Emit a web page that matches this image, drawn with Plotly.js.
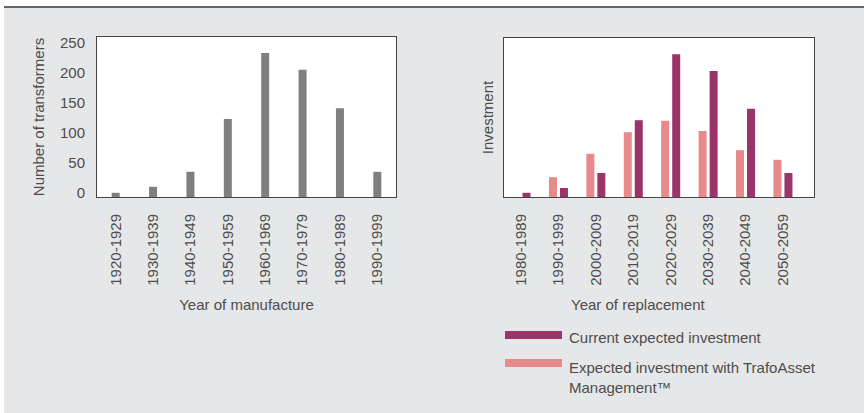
<!DOCTYPE html>
<html>
<head>
<meta charset="utf-8">
<script src="https://cdn.plot.ly/plotly-3.0.1.min.js"></script>
<style>
  html, body { margin: 0; padding: 0; background: #ffffff; }
  #chart { width: 864px; height: 413px; }
</style>
</head>
<body>
<div id="chart"></div>
<script>
// ---- Data ----
const manufactureDecades = ['1920-1929','1930-1939','1940-1949','1950-1959','1960-1969','1970-1979','1980-1989','1990-1999'];
const transformerCounts = [7, 17, 42, 130, 240, 212, 148, 42];

const replacementDecades = ['1980-1989','1990-1999','2000-2009','2010-2019','2020-2029','2030-2039','2040-2049','2050-2059'];
const currentInvestment = [7, 15, 40, 128, 238, 210, 147, 40];
const trafoAssetInvestment = [0, 33, 72, 108, 127, 110, 78, 62];

const leftYTicks = [0, 50, 100, 150, 200, 250];

const seriesNames = ['Current expected investment', 'Expected investment with TrafoAsset<br>Management™'];

// ---- Styling ----
const W = 864, H = 413;
const GREY_BAR = '#7f7f82';
const DARK = '#9b3468';
const LIGHT = '#e8898c';
const BG = '#e6e7e8';
const TEXT = '#4d4d4d';
const FRAME = '#444444';
const FONT = 'Liberation Sans, Arial, Helvetica, sans-serif';

const px = (x) => x / W;
const py = (y) => 1 - y / H;

const traces = [
  {
    type: 'bar', x: manufactureDecades, y: transformerCounts,
    xaxis: 'x', yaxis: 'y',
    marker: { color: GREY_BAR }, width: 0.214,
    showlegend: false, hoverinfo: 'x+y'
  },
  {
    type: 'bar', name: seriesNames[1], x: replacementDecades, y: trafoAssetInvestment,
    xaxis: 'x2', yaxis: 'y2',
    marker: { color: LIGHT }, width: 0.214, offset: -0.254,
    showlegend: false
  },
  {
    type: 'bar', name: seriesNames[0], x: replacementDecades, y: currentInvestment,
    xaxis: 'x2', yaxis: 'y2',
    marker: { color: DARK }, width: 0.214, offset: 0.04,
    showlegend: false
  }
];

const axisCommon = {
  showline: true, mirror: true, linecolor: FRAME, linewidth: 1,
  showgrid: false, zeroline: false, ticks: '', automargin: false,
  tickfont: { family: FONT, size: 15, color: TEXT }
};

const layout = {
  width: W, height: H,
  margin: { l: 0, r: 0, t: 0, b: 0, pad: 0 },
  paper_bgcolor: BG,
  plot_bgcolor: '#ffffff',
  font: { family: FONT, size: 15, color: TEXT },
  barmode: 'overlay',
  showlegend: false,
  xaxis: Object.assign({}, axisCommon, {
    domain: [px(97), px(396)], anchor: 'y',
    type: 'category', range: [-0.5, 7.5],
    tickangle: -90, ticklabelstandoff: 10,
    title: { text: 'Year of manufacture', standoff: 14, font: { family: FONT, size: 15, color: TEXT } }
  }),
  yaxis: Object.assign({}, axisCommon, {
    domain: [py(197), py(37)], anchor: 'x',
    range: [0, 266.7], tickvals: leftYTicks,
    ticklabelshift: -4, ticklabelstandoff: 8,
    title: { text: 'Number of transformers', standoff: 11, font: { family: FONT, size: 15, color: TEXT } }
  }),
  xaxis2: Object.assign({}, axisCommon, {
    domain: [px(504), px(814)], anchor: 'y2',
    type: 'category', range: [-0.455, 7.83],
    tickangle: -90, ticklabelstandoff: 10
  }),
  yaxis2: Object.assign({}, axisCommon, {
    domain: [py(197), py(38)], anchor: 'x2',
    range: [0, 265], showticklabels: false,
    title: { text: 'Investment', standoff: 5, font: { family: FONT, size: 15, color: TEXT } }
  }),
  shapes: [
    // white page margins around the grey panel
    { type: 'rect', xref: 'paper', yref: 'paper', x0: 0, x1: 1, y0: py(6), y1: 1, fillcolor: '#ffffff', line: { width: 0 }, layer: 'below' },
    { type: 'rect', xref: 'paper', yref: 'paper', x0: 0, x1: px(4), y0: 0, y1: 1, fillcolor: '#ffffff', line: { width: 0 }, layer: 'below' },
    // top rule
    { type: 'line', xref: 'paper', yref: 'paper', x0: px(4), x1: 1, y0: py(7), y1: py(7), line: { color: '#666666', width: 2 } },
    // legend swatches
    { type: 'rect', xref: 'paper', yref: 'paper', x0: px(505), x1: px(562), y0: py(339), y1: py(331), fillcolor: DARK, line: { width: 0 } },
    { type: 'rect', xref: 'paper', yref: 'paper', x0: px(505), x1: px(562), y0: py(367), y1: py(359), fillcolor: LIGHT, line: { width: 0 } }
  ],
  annotations: [
    { xref: 'paper', yref: 'paper', x: px(638), y: py(304), xanchor: 'center', yanchor: 'middle', showarrow: false,
      text: 'Year of replacement', font: { family: FONT, size: 15, color: TEXT } },
    { xref: 'paper', yref: 'paper', x: px(567), y: py(337), xanchor: 'left', yanchor: 'middle', showarrow: false, align: 'left',
      text: seriesNames[0], font: { family: FONT, size: 15, color: TEXT } },
    { xref: 'paper', yref: 'paper', x: px(567), y: py(377), xanchor: 'left', yanchor: 'middle', showarrow: false, align: 'left',
      text: seriesNames[1], font: { family: FONT, size: 15, color: TEXT } }
  ]
};

Plotly.newPlot('chart', traces, layout, { displayModeBar: false, staticPlot: true });
</script>
</body>
</html>
